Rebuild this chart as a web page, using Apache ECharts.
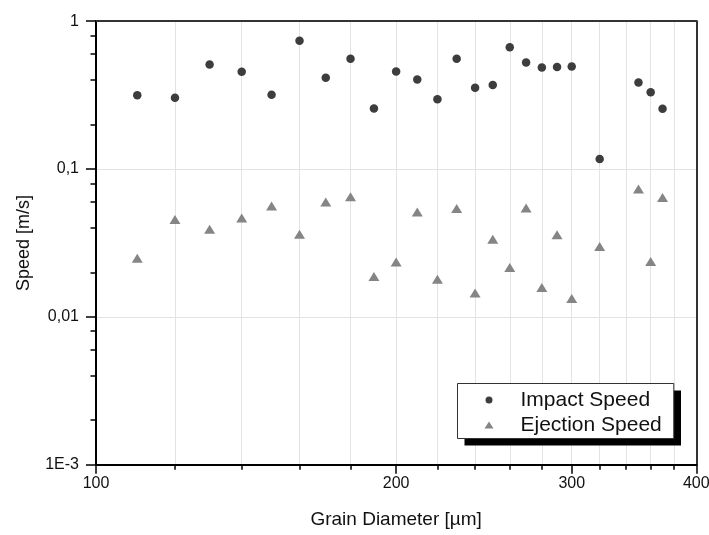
<!DOCTYPE html>
<html>
<head>
<meta charset="utf-8">
<script src="https://cdn.jsdelivr.net/npm/echarts@6/dist/echarts.min.js"></script>
<style>
html,body{margin:0;padding:0;background:#fff;}
#chart{width:709px;height:535px;}
</style>
</head>
<body>
<div id="chart"></div>
<script>
// ---- data ----
var grainDiameter = [110,120,130,140,150,160,170,180,190,200,210,220,230,240,250,260,270,280,290,300,320,350,360,370];
var impactSpeed = [0.315,0.304,0.51,0.455,0.318,0.737,0.414,0.557,0.257,0.457,0.404,0.297,0.557,0.355,0.37,0.667,0.526,0.487,0.49,0.494,0.117,0.385,0.331,0.256];
var ejectionSpeed = [0.0249,0.0455,0.0391,0.0467,0.0562,0.0362,0.0598,0.065,0.01875,0.0235,0.0512,0.018,0.054,0.0145,0.0335,0.0216,0.0545,0.0158,0.036,0.0133,0.0299,0.0733,0.0237,0.0641];
var xMajorTicks = [100,200,300,400];
var xMinorTicks = [120,140,160,180,200,220,240,260,280,300,320,340,360,380];
var yMinorTicks = [0.002,0.004,0.006,0.008,0.02,0.04,0.06,0.08,0.2,0.4,0.6,0.8];
var yTickLabels = {'0':'1','-1':'0,1','-2':'0,01','-3':'1E-3'};
var seriesNames = ['Impact Speed','Ejection Speed'];

function pairs(xs, ys){ return xs.map(function(x,i){ return [x, ys[i]]; }); }

var FONT = 'Liberation Sans, Arial, Helvetica, sans-serif';
var chart = echarts.init(document.getElementById('chart'), null, {renderer:'canvas'});
var option = {
  animation: false,
  backgroundColor: '#fff',
  textStyle: {fontFamily: FONT},
  grid: {left: 96, right: 12.7, top: 21.2, bottom: 70.3, containLabel: false, outerBoundsMode: 'none'},
  graphic: [
    { // legend drop shadow
      type: 'rect', z: 3, silent: true,
      shape: {x: 464.5, y: 390.5, width: 216.5, height: 55},
      style: {fill: '#000'}
    }
  ],
  xAxis: [
    {
      type: 'log', logBase: 10, min: 100, max: 400, position: 'bottom',
      name: 'Grain Diameter [\u00b5m]', nameLocation: 'middle', nameGap: 46,
      nameTextStyle: {fontSize: 19, color: '#111', fontFamily: FONT},
      axisLine: {show: true, lineStyle: {color: '#000', width: 2}},
      axisTick: {show: true, customValues: xMajorTicks, length: 9, lineStyle: {color: '#000', width: 1.5}},
      axisLabel: {show: true, customValues: xMajorTicks, margin: 11, fontSize: 16, color: '#111', fontFamily: FONT},
      splitLine: {show: false}
    },
    {
      type: 'log', logBase: 10, min: 100, max: 400, position: 'bottom',
      axisLine: {show: false},
      axisTick: {show: true, customValues: xMinorTicks, length: 5, lineStyle: {color: '#000', width: 1.5}},
      axisLabel: {show: false},
      splitLine: {show: true, lineStyle: {color: '#e3e3e3', width: 1}}
    },
    {
      type: 'log', logBase: 10, min: 100, max: 400, position: 'top',
      axisLine: {show: true, lineStyle: {color: '#333', width: 2}},
      axisTick: {show: false}, axisLabel: {show: false}, splitLine: {show: false}
    }
  ],
  yAxis: [
    {
      type: 'log', logBase: 10, min: 0.001, max: 1, position: 'left',
      name: 'Speed [m/s]', nameLocation: 'middle', nameGap: 63, nameRotate: 90,
      nameTextStyle: {fontSize: 18, color: '#111', fontFamily: FONT},
      axisLine: {show: true, lineStyle: {color: '#000', width: 2}},
      axisTick: {show: true, length: 10, lineStyle: {color: '#000', width: 1.5}},
      axisLabel: {
        show: true, margin: 17, fontSize: 16, color: '#111', fontFamily: FONT,
        formatter: function(v){ var k = Math.round(Math.log10(v)); return yTickLabels[String(k)] || ''; }
      },
      splitLine: {show: true, lineStyle: {color: '#e3e3e3', width: 1}}
    },
    {
      type: 'log', logBase: 10, min: 0.001, max: 1, position: 'left',
      axisLine: {show: false},
      axisTick: {show: true, customValues: yMinorTicks, length: 5.5, lineStyle: {color: '#000', width: 1.5}},
      axisLabel: {show: false}, splitLine: {show: false}
    },
    {
      type: 'log', logBase: 10, min: 0.001, max: 1, position: 'right',
      axisLine: {show: true, lineStyle: {color: '#333', width: 2}},
      axisTick: {show: false}, axisLabel: {show: false}, splitLine: {show: false}
    }
  ],
  legend: {
    show: true, orient: 'vertical', left: 457.5, top: 383.5, z: 5,
    data: seriesNames,
    itemWidth: 9, itemHeight: 7, itemGap: 4,
    padding: [6, 12, 3, 27],
    backgroundColor: '#fff', borderColor: '#333', borderWidth: 1,
    textStyle: {fontSize: 21, color: '#111', fontFamily: FONT, padding: [0,0,0,22]}
  },
  series: [
    {
      name: seriesNames[0], type: 'scatter', xAxisIndex: 0, yAxisIndex: 0,
      symbol: 'circle', symbolSize: 8.5,
      itemStyle: {color: '#3d3d3d', opacity: 1},
      data: pairs(grainDiameter, impactSpeed)
    },
    {
      name: seriesNames[1], type: 'scatter', xAxisIndex: 0, yAxisIndex: 0,
      symbol: 'triangle', symbolSize: [11, 9],
      itemStyle: {color: '#858585', opacity: 1},
      data: pairs(grainDiameter, ejectionSpeed)
    }
  ]
};
chart.setOption(option);
</script>
</body>
</html>
